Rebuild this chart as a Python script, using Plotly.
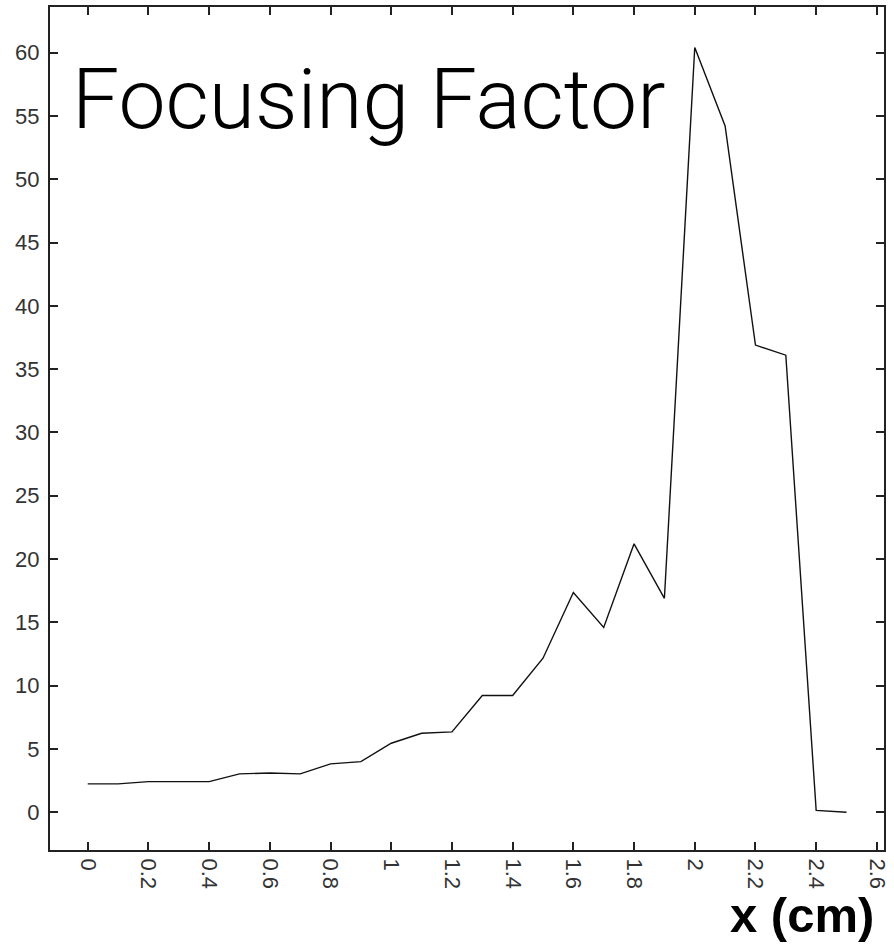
import plotly.graph_objects as go

x_cm = [0.0, 0.1, 0.2, 0.3, 0.4, 0.5, 0.6, 0.7, 0.8, 0.9, 1.0, 1.1, 1.2,
        1.3, 1.4, 1.5, 1.6, 1.7, 1.8, 1.9, 2.0, 2.1, 2.2, 2.3, 2.4, 2.5]
focusing = [2.24, 2.24, 2.42, 2.42, 2.42, 3.03, 3.1, 3.03, 3.82, 4.0, 5.45, 6.24, 6.35,
            9.22, 9.22, 12.17, 17.36, 14.6, 21.2, 16.9, 60.4, 54.2, 36.9, 36.1, 0.15, 0.0]

x_ticks = [0, 0.2, 0.4, 0.6, 0.8, 1, 1.2, 1.4, 1.6, 1.8, 2, 2.2, 2.4, 2.6]
x_tick_text = ["0", "0.2", "0.4", "0.6", "0.8", "1", "1.2", "1.4", "1.6", "1.8", "2", "2.2", "2.4", "2.6"]
y_ticks = [0, 5, 10, 15, 20, 25, 30, 35, 40, 45, 50, 55, 60]

fig = go.Figure()
fig.add_trace(go.Scatter(x=x_cm, y=focusing, mode="lines",
                         line=dict(color="#111111", width=1.4), showlegend=False))

axis_common = dict(showline=True, linecolor="#222222", linewidth=2, mirror="ticks",
                   ticks="inside", ticklen=8, tickwidth=1.5, tickcolor="#222222",
                   showgrid=False, zeroline=False,
                   tickfont=dict(family="Liberation Sans, Arial, sans-serif", size=22, color="#333333"))

fig.update_xaxes(range=[-0.1243, 2.6235], tickvals=x_ticks, ticktext=x_tick_text,
                 tickangle=90, ticklabelstandoff=2, **axis_common)
fig.update_yaxes(range=[-2.98, 63.6], tickvals=y_ticks, ticklabelstandoff=4, **axis_common)

fig.add_annotation(text="Focusing Factor", xref="paper", yref="paper",
                   x=0.0235, y=0.951, xanchor="left", yanchor="top", showarrow=False,
                   font=dict(family="Roboto, Liberation Sans, sans-serif",
                             size=84, weight=300, color="#000000"))
fig.add_annotation(text="<b>x (cm)</b>", xref="paper", yref="paper",
                   x=0.99, y=-0.0425, xanchor="right", yanchor="top", showarrow=False,
                   font=dict(family="Liberation Sans, Arial, sans-serif", size=49, color="#000000"))

fig.update_layout(width=894, height=944, margin=dict(l=50, r=4, t=7, b=94),
                  paper_bgcolor="white", plot_bgcolor="white")

fig.write_html("out.html", config={"displayModeBar": False},
               post_script="document.body.style.margin='0';")
